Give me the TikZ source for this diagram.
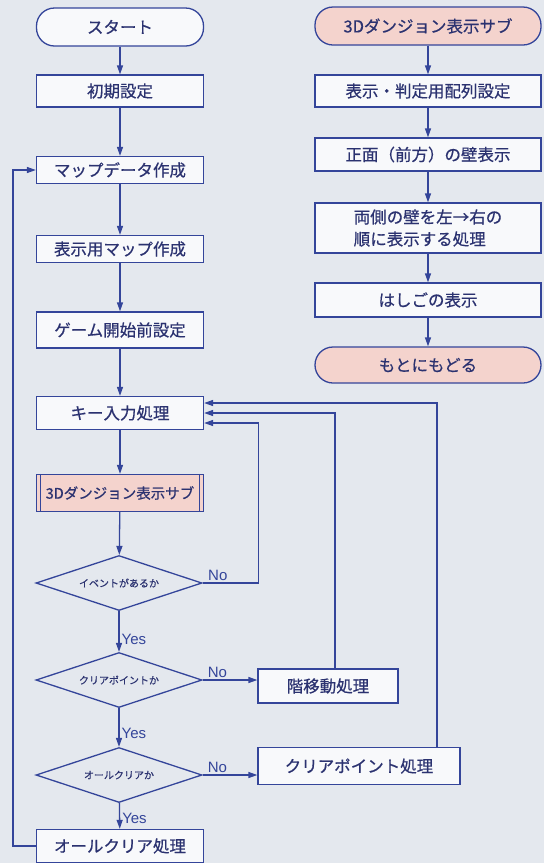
\documentclass[tikz,border=0pt]{standalone}
\usepackage{fontspec}
\setmainfont{Noto Sans CJK JP}[FakeBold=0.6]
\newfontfamily\latinsf{Liberation Sans}
\usetikzlibrary{arrows.meta,shapes.geometric}
\definecolor{cBack}{HTML}{E4E8EE}
\definecolor{cMain}{HTML}{34459A}
\definecolor{cText}{HTML}{2B3270}
\definecolor{cPink}{HTML}{F4D3CD}
\definecolor{cBox}{HTML}{F8F9FB}
\tikzset{
  node-box/.style={draw=cMain,line width=1.3pt,fill=cBox,
    minimum width=167pt,minimum height=32pt,align=center,inner sep=2pt,
    text=cText,font=\fontsize{16.5}{22}\selectfont},
  node-term/.style={node-box,rounded corners=18pt,minimum height=38pt},
  node-pink/.style={fill=cPink},
  node-dec/.style={draw=cMain,line width=1.3pt,fill=cBack,diamond,aspect=3,
    minimum width=166pt,minimum height=55pt,inner sep=0pt,
    text=cText,font=\fontsize{10}{12}\selectfont},
  arrow/.style={-{Triangle[length=9pt,width=6pt]},line width=1.3pt,draw=cMain},
  line/.style={line width=1.3pt,draw=cMain},
  lbl/.style={text=cMain,inner sep=2pt,font=\latinsf\fontsize{15}{17}\selectfont},
}
\begin{document}
\begin{tikzpicture}[x=1pt,y=-1pt]
  \fill[cBack] (0,0) rectangle (544,863);
  \useasboundingbox (0,0) rectangle (544,863);

  % メインルーチン
  \node[node-term] (start) at (120,27) {スタート};
  \node[node-box] (init) at (120,91) {初期設定};
  \node[node-box,minimum height=27pt] (mapdata) at (120,170) {マップデータ作成};
  \node[node-box,minimum height=27pt] (dispmap) at (120,249) {表示用マップ作成};
  \node[node-box,minimum height=36pt] (preset) at (120,330) {ゲーム開始前設定};
  \node[node-box,minimum height=33pt] (keyin) at (120,413) {キー入力処理};
  \node[node-box,node-pink,minimum height=37pt,font=\fontsize{14.5}{18}\selectfont] (dsub) at (120,493)
    {3Dダンジョン表示サブ};
  \draw[line] ([xshift=4.5pt]dsub.north west) -- ([xshift=4.5pt]dsub.south west);
  \draw[line] ([xshift=-4.5pt]dsub.north east) -- ([xshift=-4.5pt]dsub.south east);
  \node[node-dec] (event) at (119,583) {イベントがあるか};
  \node[node-dec] (clrpt) at (119,680) {クリアポイントか};
  \node[node-dec] (allclr) at (119,775) {オールクリアか};
  \node[node-box,minimum height=33pt] (allproc) at (120,846) {オールクリア処理};
  \node[node-box,minimum width=140pt,minimum height=34pt] (floor) at (328,686) {階移動処理};
  \node[node-box,minimum width=202pt,minimum height=37pt] (clrproc) at (359,766) {クリアポイント処理};

  \draw[arrow] (start) -- (init);
  \draw[arrow] (init) -- (mapdata);
  \draw[arrow] (mapdata) -- (dispmap);
  \draw[arrow] (dispmap) -- (preset);
  \draw[arrow] (preset) -- (keyin);
  \draw[arrow] (keyin) -- (dsub);
  \draw[arrow] (dsub) -- (event);
  \draw[arrow] (event) -- node[lbl,right,pos=0.7] (yes1) {Yes} (clrpt);
  \draw[arrow] (clrpt) -- node[lbl,right,pos=0.65] (yes2) {Yes} (allclr);
  \draw[arrow] (allclr) -- node[lbl,right,pos=0.6] (yes3) {Yes} (allproc);
  \draw[arrow] (event.east) -- node[lbl,above,pos=0.27] (no1) {No} ++(56,0)
    |- ([yshift=-10pt]keyin.east);
  \draw[arrow] (clrpt.east) -- node[lbl,above,pos=0.27] (no2) {No} (floor.west |- clrpt.east);
  \draw[arrow] (allclr.east) -- node[lbl,above,pos=0.27] (no3) {No} (clrproc.west |- allclr.east);
  \draw[arrow] ([xshift=7pt]floor.north) |- (keyin.east);
  \draw[arrow] ([xshift=78pt]clrproc.north) |- ([yshift=10pt]keyin.east);
  \draw[arrow] (allproc.west) -- ++(-23,0) |- (mapdata.west);

  % 3Dダンジョン表示サブ
  \node[node-term,node-pink,minimum width=226pt] (rsub) at (428,26) {3Dダンジョン表示サブ};
  \node[node-box,minimum width=226pt] (rarr) at (428,91) {表示・判定用配列設定};
  \node[node-box,minimum width=226pt,minimum height=33pt] (rfront) at (428,154.5) {正面（前方）の壁表示};
  \node[node-box,minimum width=226pt,minimum height=50pt,align=left] (rside) at (428,228)
    {両側の壁を左→右の\\順に表示する処理};
  \node[node-box,minimum width=226pt,minimum height=34pt] (rladder) at (428,300) {はしごの表示};
  \node[node-term,node-pink,minimum width=226pt,minimum height=36pt] (rret) at (428,365) {もとにもどる};

  \draw[arrow] (rsub) -- (rarr);
  \draw[arrow] (rarr) -- (rfront);
  \draw[arrow] (rfront) -- (rside);
  \draw[arrow] (rside) -- (rladder);
  \draw[arrow] (rladder) -- (rret);
\end{tikzpicture}
\end{document}
